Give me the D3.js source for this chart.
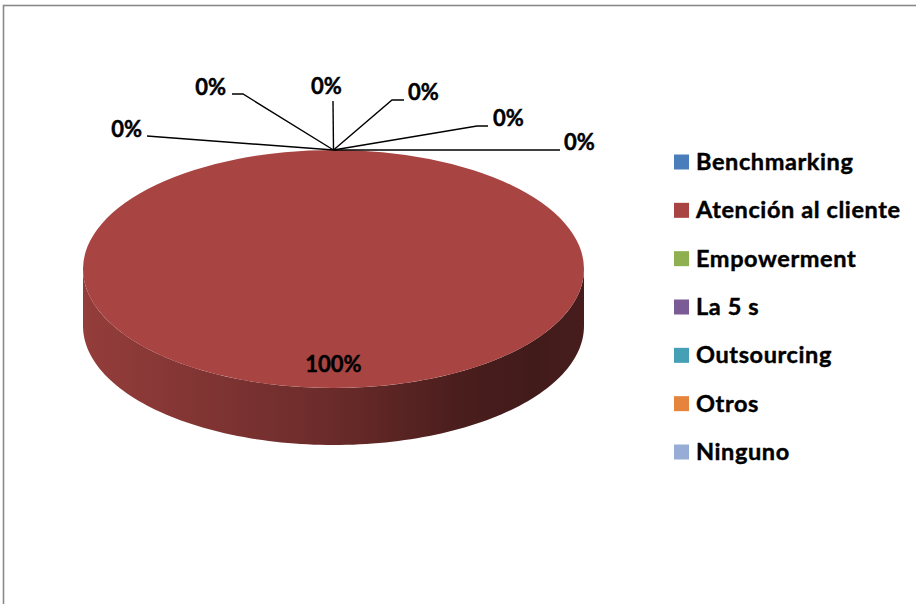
<!DOCTYPE html>
<html>
<head>
<meta charset="utf-8">
<script src="https://cdn.jsdelivr.net/npm/d3@7"></script>
<style>
  html, body { margin: 0; padding: 0; background: #fff; }
  svg { display: block; }
  text { font-family: Lato, "Open Sans", "DejaVu Sans", sans-serif; font-weight: 700; fill: #000; stroke: #000; stroke-width: 0.45px; }
</style>
</head>
<body>
<svg id="chart" width="916" height="604"></svg>
<script>
// Techniques in use (percentage of respondents)
const categories = ["Benchmarking", "Atención al cliente", "Empowerment", "La 5 s", "Outsourcing", "Otros", "Ninguno"];
const values = [0, 100, 0, 0, 0, 0, 0];
const sliceColors = ["#4a7ebb", "#a84543", "#8fb050", "#7a5b95", "#45a0b5", "#e5843c", "#97add6"];

const W = 916, H = 604;
const svg = d3.select("#chart");

// Chart frame
svg.append("rect")
  .attr("x", 3.5).attr("y", 5.5)
  .attr("width", W + 10).attr("height", H + 10)
  .attr("fill", "#fff").attr("stroke", "#8a8a8a").attr("stroke-width", 1.6);

// 3D pie geometry
const cx = 333.5, cy = 269, rx = 250.5, ry = 119, depth = 57;
const total = d3.sum(values);
const pct = d3.scaleLinear().domain([0, total]).range([0, 100]);

const pie = d3.pie().sort(null).value(d => d.value).startAngle(0).endAngle(2 * Math.PI);
const arcs = pie(categories.map((c, i) => ({ name: c, value: values[i], color: sliceColors[i] })));

// point on the tilted ellipse for a d3 angle (0 = 12 o'clock, clockwise)
const ept = (a, f = 1, dy = 0) => [cx + f * rx * Math.sin(a), cy - f * ry * Math.cos(a) + dy];

function ellipseArcPath(a0, a1, dy, steps) {
  const pts = [];
  for (let k = 0; k <= steps; k++) pts.push(ept(a0 + (a1 - a0) * k / steps, 1, dy));
  return pts;
}

const defs = svg.append("defs");
const g = svg.append("g");

// front walls, shaded from lit left to dark right
arcs.forEach((d, i) => {
  if (d.endAngle - d.startAngle <= 0) return;
  const a0 = Math.max(d.startAngle, Math.PI / 2);
  const a1 = Math.min(d.endAngle, 3 * Math.PI / 2);
  if (a1 <= a0) return;
  const base = d3.color(d.data.color);
  const gid = "wall" + i;
  const grad = defs.append("linearGradient").attr("id", gid)
    .attr("gradientUnits", "userSpaceOnUse")
    .attr("x1", cx - rx).attr("y1", 0).attr("x2", cx + rx).attr("y2", 0);
  [[0, 0.35], [0.15, 0.6], [0.5, 1.3], [0.75, 2.3], [0.9, 2.65], [1, 2.45]].forEach(([o, k]) => {
    grad.append("stop").attr("offset", o).attr("stop-color", base.darker(k).formatHex());
  });
  const steps = 120;
  const top = ellipseArcPath(a0, a1, 0, steps);
  const bot = ellipseArcPath(a1, a0, depth, steps);
  g.append("path")
    .attr("d", d3.line()(top.concat(bot)) + "Z")
    .attr("fill", `url(#${gid})`);
});

// top faces
arcs.forEach(d => {
  const span = d.endAngle - d.startAngle;
  if (span <= 0) return;
  let path;
  if (span >= 2 * Math.PI - 1e-9) {
    path = `M${cx - rx},${cy}A${rx},${ry} 0 1 0 ${cx + rx},${cy}A${rx},${ry} 0 1 0 ${cx - rx},${cy}Z`;
  } else {
    const pts = ellipseArcPath(d.startAngle, d.endAngle, 0, 120);
    path = d3.line()([[cx, cy]].concat(pts)) + "Z";
  }
  g.append("path").attr("d", path).attr("fill", d.data.color);
});

// labels of visible slices, inside the top face
arcs.filter(d => d.value > 0).forEach(d => {
  const mid = (d.startAngle + d.endAngle) / 2;
  const [lx, ly] = ept(mid, 0.8);
  g.append("text")
    .attr("x", lx).attr("y", ly + 8)
    .attr("text-anchor", "middle")
    .attr("font-size", 22)
    .text(Math.round(pct(d.value)) + "%");
});

// zero-value slices: labels fanned out above the rim with leader lines
const fanSpots = [
  { line: [[-173.5, -13], [-186.5, -14]], tx: -191.5, ty: -13, anchor: "end" },
  { line: [[-90.5, -56], [-101.5, -56]], tx: -107.5, ty: -55, anchor: "end" },
  { line: [[-0.5, -49]], tx: -7, ty: -56, anchor: "middle" },
  { line: [[58.5, -50], [70.5, -50]], tx: 74.5, ty: -50, anchor: "start" },
  { line: [[143.5, -24], [154.5, -24]], tx: 159.5, ty: -24, anchor: "start" },
  { line: [[226.5, 0]], tx: 230.5, ty: 0, anchor: "start" }
];
const zeroArcs = arcs.filter(d => d.value === 0);
zeroArcs.forEach((d, i) => {
  const spot = fanSpots[i % fanSpots.length];
  const [px, py] = ept(d.startAngle);
  const pts = [[px, py]].concat(spot.line.map(([dx, dy]) => [px + dx, py + dy]));
  g.append("path")
    .attr("d", d3.line()(pts))
    .attr("fill", "none").attr("stroke", "#000").attr("stroke-width", 1.4);
  g.append("text")
    .attr("x", px + spot.tx).attr("y", py + spot.ty)
    .attr("text-anchor", spot.anchor)
    .attr("font-size", 22)
    .text(Math.round(pct(d.value)) + "%");
});

// legend
const legendY = d3.scalePoint().domain(categories).range([162, 452]);
const legend = svg.append("g");
categories.forEach((c, i) => {
  const y = legendY(c);
  legend.append("rect")
    .attr("x", 674).attr("y", y - 7.5).attr("width", 15).attr("height", 15)
    .attr("fill", sliceColors[i]);
  legend.append("text")
    .attr("x", 696).attr("y", y + 8)
    .attr("font-size", 23.5)
    .attr("letter-spacing", 0.6)
    .text(c);
});
</script>
</body>
</html>
